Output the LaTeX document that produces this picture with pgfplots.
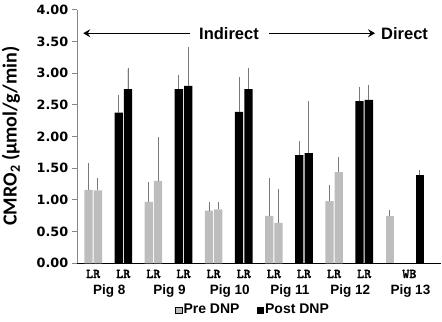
\documentclass[border=0pt]{standalone}
\usepackage{pgfplots}
\pgfplotsset{compat=1.18}
\usepackage{pgfplotstable}
\usetikzlibrary{arrows.meta}
\usepackage{fontspec}
\setmainfont{Liberation Sans}
\newfontfamily\tickfont{DejaVu Sans}
\newfontfamily\labfont{Carlito}
\newfontfamily\lrfont[FakeBold=1.6]{lmmonolt10-bold.otf}
\definecolor{preGray}{HTML}{BDBDBD}
\definecolor{errGray}{HTML}{787878}
\definecolor{axGray}{HTML}{868686}
\tikzset{
  lr/.style={font=\lrfont\fontsize{13.5bp}{14bp}\selectfont, anchor=base, yshift=-14.7bp},
  pig/.style={font=\bfseries\fontsize{13.5bp}{15bp}\selectfont, anchor=base, yshift=-31bp, xshift=1bp},
}

\pgfplotstableread{
x y e
0 1.16 0.41
2 0.97 0.29
4 0.83 0.11
6 0.75 0.58
8 0.98 0.24
}\preL
\pgfplotstableread{
x y e
0 1.15 0.18
2 1.30 0.67
4 0.85 0.09
6 0.64 0.52
8 1.44 0.22
}\preR
\pgfplotstableread{
x y e
1 2.38 0.25
3 2.75 0.21
5 2.39 0.53
7 1.71 0.20
9 2.56 0.21
}\postL
\pgfplotstableread{
x y e
1 2.75 0.32
3 2.80 0.59
5 2.75 0.32
7 1.74 0.80
9 2.58 0.22
}\postR
\pgfplotstableread{
x y e
10 0.75 0.07
}\preWB
\pgfplotstableread{
x y e
11 1.39 0.07
}\postWB

\begin{document}
\begin{tikzpicture}
\useasboundingbox (0,0) rectangle (442bp,322bp);
\begin{axis}[
  at={(77.3bp,58.7bp)}, anchor=south west,
  scale only axis, width=363.7bp, height=253.3bp,
  xmin=-0.528, xmax=11.55, ymin=0, ymax=4,
  clip=false,
  axis lines*=left,
  x axis line style={black, line width=1.2bp},
  y axis line style={axGray, line width=1.4bp},
  xtick=\empty,
  ytick={0,0.5,...,4},
  tick align=outside,
  major tick length=5.5bp,
  ytick style={draw=axGray, line width=1bp},
  /pgf/number format/assume math mode=true,
  yticklabel style={/pgf/number format/fixed, /pgf/number format/fixed zerofill, /pgf/number format/precision=2,
    font=\tickfont\bfseries\fontsize{12.8bp}{14bp}\selectfont},
  error bars/y dir=plus, error bars/y explicit,
  error bars/error bar style={draw=errGray, line width=0.8bp},
  error bars/error mark options={draw=errGray, line width=0.8bp, mark size=1.3bp},
  legend columns=2,
  legend image code/.code={\fill[#1] (0bp,-3.1bp) rectangle (6.2bp,3.1bp);},
  legend style={draw=none, fill=none, at={(0.2692,-0.184)}, anchor=west,
    font=\bfseries\fontsize{14bp}{16bp}\selectfont,
    column sep=0pt,
    inner sep=0pt, nodes={inner sep=1.5bp}},
]
\addlegendimage{fill=preGray}
\addlegendentry{Pre DNP\rule{16bp}{0pt}}
\addlegendimage{fill=black}
\addlegendentry{Post DNP}

\addplot[ybar, bar width=0.275, bar shift=0, fill=preGray, draw=none] table[x expr=\thisrow{x}-0.155, y=y, y error=e] {\preL};
\addplot[ybar, bar width=0.275, bar shift=0, fill=preGray, draw=none] table[x expr=\thisrow{x}+0.155, y=y, y error=e] {\preR};
\addplot[ybar, bar width=0.275, bar shift=0, fill=black, draw=none] table[x expr=\thisrow{x}-0.155, y=y, y error=e] {\postL};
\addplot[ybar, bar width=0.275, bar shift=0, fill=black, draw=none] table[x expr=\thisrow{x}+0.155, y=y, y error=e] {\postR};
\addplot[ybar, bar width=0.275, bar shift=0, fill=preGray, draw=none] table[x expr=\thisrow{x}-0.155, y=y, y error=e] {\preWB};
\addplot[ybar, bar width=0.275, bar shift=0, fill=black, draw=none] table[x expr=\thisrow{x}-0.155, y=y, y error=e] {\postWB};

\node[lr] at (axis cs:0,0) {LR};
\node[lr] at (axis cs:1,0) {LR};
\node[lr] at (axis cs:2,0) {LR};
\node[lr] at (axis cs:3,0) {LR};
\node[lr] at (axis cs:4,0) {LR};
\node[lr] at (axis cs:5,0) {LR};
\node[lr] at (axis cs:6,0) {LR};
\node[lr] at (axis cs:7,0) {LR};
\node[lr] at (axis cs:8,0) {LR};
\node[lr] at (axis cs:9,0) {LR};
\node[lr] at (axis cs:10.5,0) {WB};
\node[pig] at (axis cs:0.5,0) {Pig 8};
\node[pig] at (axis cs:2.5,0) {Pig 9};
\node[pig] at (axis cs:4.5,0) {Pig 10};
\node[pig] at (axis cs:6.5,0) {Pig 11};
\node[pig] at (axis cs:8.5,0) {Pig 12};
\node[pig] at (axis cs:10.5,0) {Pig 13};

\draw[line width=1.3bp, -{Stealth[length=7bp, width=8bp, inset=2.5bp]}] (axis cs:3.22,3.633) -- (axis cs:-0.33,3.633);
\draw[line width=1.3bp, -{Stealth[length=7bp, width=8bp, inset=2.5bp]}] (axis cs:5.85,3.633) -- (axis cs:9.36,3.633);
\node[font=\bfseries\fontsize{16.5bp}{18bp}\selectfont, anchor=base] at (axis cs:4.51,3.539) {Indirect};
\node[font=\bfseries\fontsize{16.5bp}{18bp}\selectfont, anchor=base] at (axis cs:10.34,3.539) {Direct};
\end{axis}
\node[rotate=90, anchor=base, font=\labfont\bfseries\fontsize{20bp}{22bp}\selectfont] at (16.7bp,186bp) {CMRO\textsubscript{2} (μmol/g/min)};
\end{tikzpicture}
\end{document}
